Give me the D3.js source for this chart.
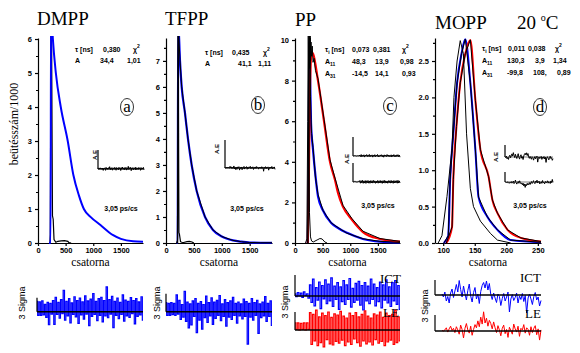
<!DOCTYPE html>
<html>
<head>
<meta charset="utf-8">
<script src="https://cdn.jsdelivr.net/npm/d3@7"></script>
<style>
body { margin: 0; background: #fff; }
svg { display: block; }
.tick text { font-family: "Liberation Sans", Arial, sans-serif; font-weight: bold; font-size: 7.5px; }
.axis path, .axis line { stroke: #000; stroke-width: 1.2; }
</style>
</head>
<body>
<svg id="chart" width="580" height="353"></svg>
<script>
// ---- DMPP (a) : channel / counts(x1000)
var dmppCh    = [200, 228, 236, 269, 323, 412, 538, 640, 740, 830, 950, 1130, 1360, 1500, 1720, 1900];
var dmppFit   = [0, 0, 7.0, 6.0, 5.0, 4.0, 3.0, 2.0, 1.4, 1.0, 0.77, 0.53, 0.23, 0.12, 0.05, 0.04];
var dmppIrfCh = [200, 215, 222, 230, 238, 246, 262, 275, 290, 323, 360, 420, 480, 540, 560, 600];
var dmppIrf   = [0, 0, 0.25, 4, 8, 6, 0.8, 0.7, 0.1, 0.02, 0.05, 0.06, 0.07, 0.05, 0.01, 0];

// ---- TFPP (b)
var tfppCh    = [190, 210, 218, 251, 281, 340, 394, 460, 550, 700, 842, 1000, 1200, 1350, 1500, 1700, 1900];
var tfppFit   = [0, 0, 8.5, 7.0, 6.0, 5.0, 4.0, 3.0, 2.0, 1.0, 0.5, 0.25, 0.1, 0.05, 0.02, 0.01, 0.01];
var tfppIrfCh = [190, 205, 212, 218, 224, 232, 240, 260, 300, 376, 420, 466, 500];
var tfppIrf   = [0, 0.1, 3, 9, 5, 0.4, 0.35, 0.05, 0.01, 0.05, 0.06, 0.04, 0];

// ---- PP (c)
var ppIctCh     = [230, 245, 262, 275, 290, 326, 371, 416, 507, 652, 800, 941, 1230, 1538, 1900];
var ppIctFit    = [0, 3, 10, 8, 5.9, 4.6, 3.3, 2.3, 1.6, 1.0, 0.7, 0.5, 0.2, 0.07, 0.03];
var ppLeCh      = [230, 245, 270, 300, 330, 416, 525, 633, 724, 778, 869, 1031, 1230, 1538, 1900];
var ppLeFit     = [0, 2, 7.5, 9.4, 9.3, 8, 6, 4, 3.1, 2.46, 1.78, 1.14, 0.54, 0.2, 0.07];
var ppIctDataCh = [232, 248, 255, 262, 268, 274, 280, 290, 300, 326, 371, 416, 507, 652, 800, 941, 1230, 1538, 1900];
var ppIctData   = [0, 6.5, 9.6, 10.3, 8.8, 10.2, 7.2, 6.1, 5.4, 4.7, 3.2, 2.4, 1.6, 1.0, 0.72, 0.48, 0.21, 0.08, 0.03];
var ppLeDataCh  = [232, 250, 258, 266, 274, 282, 290, 300, 312, 326, 345, 370, 416, 525, 633, 724, 869, 1031, 1230, 1538, 1900];
var ppLeData    = [0, 5.5, 9.9, 8.6, 10.1, 9.0, 9.9, 9.2, 9.7, 8.9, 9.1, 8.5, 8.1, 6.1, 4.1, 3.2, 1.85, 1.2, 0.58, 0.22, 0.08];
var ppIrfCh     = [190, 215, 230, 240, 250, 262, 280, 300, 330, 400, 450, 490, 540, 580];
var ppIrf       = [0, 0.2, 6, 10.5, 7, 1.5, 0.3, 0.1, 0.05, 0.15, 0.22, 0.2, 0.05, 0];

// ---- MOPP (d)
var moppIrfCh = [92, 98, 106, 114, 117, 122, 127, 132, 137, 143, 148, 159, 175, 186, 207];
var moppIrf   = [0, 0.1, 0.64, 1.3, 2.0, 2.5, 2.78, 2.6, 1.5, 0.75, 0.5, 0.3, 0.13, 0.04, 0];
var moppIctCh = [101, 108, 111, 116, 122, 129, 135, 143, 151, 156, 170, 186, 207, 255];
var moppIct   = [0, 0.1, 0.87, 1.5, 2.2, 2.6, 2.8, 2.2, 1.28, 0.63, 0.36, 0.18, 0.04, 0.01];
var moppLeCh  = [105, 114, 116, 121, 127, 135, 143, 151, 159, 172, 178, 186, 202, 223, 255];
var moppLe    = [0, 0.22, 0.87, 1.6, 2.2, 2.6, 2.79, 1.96, 1.28, 0.91, 0.59, 0.41, 0.18, 0.07, 0.02];

// ---- weighted residuals (sigma units)
var resDmpp = [2.2,-0.8,2.1,-0.8,2.3,-0.7,1.6,-1.2,2.0,-2.8,1.8,-0.5,2.4,-2.7,3.1,-0.6,2.0,-1.4,2.6,-0.4,
  4.6,-1.8,2.2,-0.9,2.8,-2.4,1.9,-0.6,3.2,-1.1,2.4,-2.5,2.9,-0.7,2.1,-1.6,3.4,-0.5,2.3,-3.0,
  2.7,-1.0,3.9,-0.6,2.2,-1.9,2.8,-0.8,3.1,-2.2,2.4,-0.9,5.3,-1.3,2.6,-0.5,3.3,-3.4,2.2,-0.8,
  2.9,-1.5,2.0,-0.6,3.6,-2.0,2.5,-0.9,2.2,-1.2,3.0,-0.4,2.4,-2.6,2.8,-1.0,2.1,-0.7,3.2,-1.8];
var resTfpp = [1.5,-0.6,1.4,-0.6,1.5,-0.5,1.4,-0.6,2.8,-0.4,1.9,-1.3,1.2,-0.9,3.4,-1.6,1.6,-2.7,1.3,-2.2,
  1.8,-0.8,2.2,-3.5,1.4,-1.4,1.7,-2.9,1.2,-1.0,2.6,-1.8,1.5,-0.7,2.3,-2.1,1.6,-1.1,1.9,-0.6,
  2.7,-1.5,1.3,-0.8,2.0,-2.4,1.5,-0.9,1.8,-1.3,2.4,-0.6,1.4,-1.9,1.6,-0.7,1.3,-1.2,2.1,-0.8,
  1.7,-5.4,1.4,-0.9,2.2,-1.4,1.5,-0.6,1.9,-3.6,1.3,-1.0,1.6,-0.7,2.5,-1.6,1.4,-0.8,1.8,-2.3];
var resPpIct = [0.3,-0.1,0.5,0.0,0.4,-0.2,0.6,0.1,0.3,-0.3,
  1.6,-0.9,2.4,-1.4,1.2,-0.6,2.0,-1.8,1.5,-0.4,2.3,-1.1,1.7,-0.7,2.6,-1.5,1.4,-0.5,1.9,-1.9,
  1.3,-0.8,2.2,-1.2,1.6,-0.5,2.5,-1.6,1.1,-0.9,1.8,-0.6,2.1,-1.3,1.5,-2.0,1.9,-0.7,1.4,-1.1,
  2.4,-0.5,1.7,-1.4,1.2,-0.8,2.0,-1.7,1.6,-0.6,2.3,-1.0,1.3,-1.5,1.9,-0.7,2.2,-1.2,1.5,-1.9];
var resPpLe = [1.2,0.1,1.2,0.0,1.1,0.1,1.2,0.0,1.2,0.1,
  2.9,-2.4,2.6,-1.8,3.3,-2.6,2.2,-2.1,2.8,-2.8,2.4,-1.6,3.0,-2.3,2.1,-2.5,2.7,-1.9,2.5,-2.2,
  3.1,-1.7,2.3,-2.6,2.0,-2.0,2.8,-2.4,2.4,-1.5,2.9,-2.1,2.2,-2.7,2.6,-1.8,3.2,-2.3,2.3,-2.0,
  2.0,-2.5,2.7,-1.6,2.5,-2.2,3.0,-1.9,2.1,-2.6,2.8,-2.0,2.4,-1.7,2.6,-2.4,3.3,-2.1,2.2,-1.8];
var resMoppIct = [0.2,-0.4,0.6,-1.2,-0.3,-1.6,0.4,1.2,-0.5,0.8,2.1,0.6,2.9,1.1,-0.4,1.8,0.3,-1.0,0.9,2.2,
  -0.2,-1.4,0.5,1.5,-0.8,0.2,-1.7,0.7,1.9,2.5,1.4,2.8,1.0,2.3,0.1,-0.9,0.4,-0.6,-1.5,0.2,
  -0.3,-2.1,-0.7,0.3,-1.2,-0.4,0.6,-3.4,-0.8,0.1,-1.1,-0.5,0.4,-1.6,-0.2,-0.9,0.3,-1.3,-0.1,-3.6,
  -0.6,0.2,-0.8,-1.9,-0.3,0.5,-1.0,-0.4,-2.2,-1.1];
var resMoppLe = [0.1,0.0,0.2,0.6,-0.2,0.4,0.9,0.1,0.5,-0.3,0.8,0.2,-0.6,1.1,0.3,-1.3,0.5,1.4,0.2,-0.4,
  0.9,-0.8,0.3,1.2,0.6,1.9,0.8,2.6,1.3,3.6,1.5,2.4,0.9,2.0,1.4,0.4,1.7,0.6,-0.3,1.0,
  0.2,-0.9,0.5,1.1,-0.5,0.3,-1.2,0.7,0.1,-0.6,1.3,0.4,-0.2,0.9,-1.0,0.5,0.2,1.2,-0.4,0.6,
  0.3,-0.8,0.8,-0.3,0.5,1.0,-0.7,0.4,-1.7,0.2];

var chanTicks = [0, 500, 1000, 1500];
var moppTicks = [100, 150, 200, 250];

var svg = d3.select("#chart");
var serif = '"Liberation Serif","Times New Roman",serif';
var sans = '"Liberation Sans",Arial,sans-serif';

function txt(x, y, s, o) {
    o = o || {};
    return svg.append("text").attr("x", x).attr("y", y)
        .attr("font-family", o.family || sans)
        .attr("font-size", o.size || 7)
        .attr("font-weight", o.weight || "bold")
        .attr("text-anchor", o.anchor || "start")
        .text(s);
}

function drawPanel(p) {
    var x = d3.scaleLinear().domain(p.xDomain).range([p.left, p.right]);
    var y = d3.scaleLinear().domain([0, p.yMax]).range([243, 38]);

    svg.append("clipPath").attr("id", "clip-" + p.id).append("rect")
        .attr("x", p.left).attr("y", 36).attr("width", p.right - p.left + 3).attr("height", 208);

    svg.append("g").attr("class", "axis").attr("transform", "translate(" + p.left + ",0)")
        .call(d3.axisLeft(y).tickValues(p.yMinor).tickSize(2).tickFormat(""))
        .call(function (a) { a.select(".domain").remove(); });
    svg.append("g").attr("class", "axis").attr("transform", "translate(" + p.left + ",0)")
        .call(d3.axisLeft(y).tickValues(p.yTicks).tickSize(3).tickSizeOuter(0).tickPadding(3).tickFormat(p.yFormat));
    svg.append("g").attr("class", "axis").attr("transform", "translate(0,243)")
        .call(d3.axisBottom(x).tickValues(p.xTicks).tickSize(3).tickSizeOuter(0).tickPadding(2).tickFormat(d3.format("d")));

    var plot = svg.append("g").attr("clip-path", "url(#clip-" + p.id + ")");
    p.curves.forEach(function (c) {
        var line = d3.line().x(function (d) { return x(d[0]); }).y(function (d) { return y(d[1]); })
            .curve(c.smooth ? d3.curveMonotoneX : d3.curveLinear);
        plot.append("path").datum(d3.zip(c.ch, c.v)).attr("d", line)
            .attr("fill", "none").attr("stroke", c.color).attr("stroke-width", c.w);
    });

    txt((p.left + p.right) / 2, 266, "csatorna", { family: serif, size: 11.5, weight: "normal", anchor: "middle" });
}

// residual trace with a 3-sigma bar at its left end
function drawResidual(r) {
    var x = d3.scaleLinear().domain([0, r.values.length - 1]).range([r.x0, r.x1]);
    var line = d3.line().x(function (d, i) { return x(i); }).y(function (d) { return r.base - d * r.unit; })
        .curve(r.step ? d3.curveStep : d3.curveLinear);
    svg.append("path").datum(r.values).attr("d", line)
        .attr("fill", "none").attr("stroke", r.color).attr("stroke-width", r.w || 1);
    svg.append("line").attr("x1", r.left).attr("x2", r.x1).attr("y1", r.base).attr("y2", r.base)
        .attr("stroke", "#000").attr("stroke-width", r.bw || 1.5);
    svg.append("line").attr("x1", r.left).attr("x2", r.left).attr("y1", r.base).attr("y2", r.base - r.bar)
        .attr("stroke", "#000").attr("stroke-width", 1.2);
}

function circled(x, y, s) {
    svg.append("ellipse").attr("cx", x).attr("cy", y).attr("rx", 6.5).attr("ry", 8.5)
        .attr("fill", "none").attr("stroke", "#000").attr("stroke-width", 0.8);
    txt(x, y + 5, s, { family: serif, size: 17, weight: "normal", anchor: "middle" });
}

function rotLabel(x, y, s, o) {
    txt(0, 0, s, o).attr("transform", "translate(" + x + "," + y + ") rotate(-90)");
}

function sym(x, y, main, sub, sup) {
    var t = txt(x, y, main);
    if (sub) t.append("tspan").attr("font-size", 5).attr("dy", 2).text(sub);
    if (sup) t.append("tspan").attr("font-size", 5).attr("dy", -4).text(sup);
    return t;
}

// ---------------- main panels
drawPanel({ id: "a", left: 38, right: 143, xDomain: [0, 1900], xTicks: chanTicks,
    yMax: 6.03, yTicks: [0, 1, 2, 3, 4, 5, 6], yMinor: [0.5, 1.5, 2.5, 3.5, 4.5, 5.5], yFormat: d3.format("d"),
    curves: [
        { ch: dmppIrfCh, v: dmppIrf, color: "#000", w: 1.2 },
        { ch: dmppCh, v: dmppFit, color: "#0000ff", w: 2, smooth: true }
    ] });
drawPanel({ id: "b", left: 166, right: 272, xDomain: [0, 1900], xTicks: chanTicks,
    yMax: 7.88, yTicks: [0, 1, 2, 3, 4, 5, 6, 7], yMinor: [0.5, 1.5, 2.5, 3.5, 4.5, 5.5, 6.5, 7.5], yFormat: d3.format("d"),
    curves: [
        { ch: tfppCh, v: tfppFit, color: "#0000ff", w: 2.2, smooth: true },
        { ch: tfppIrfCh, v: tfppIrf, color: "#000", w: 1.2 },
        { ch: tfppCh, v: tfppFit, color: "#000", w: 1 }
    ] });
drawPanel({ id: "c", left: 295, right: 400, xDomain: [0, 1900], xTicks: chanTicks,
    yMax: 10.1, yTicks: [0, 2, 4, 6, 8, 10], yMinor: [1, 3, 5, 7, 9], yFormat: d3.format("d"),
    curves: [
        { ch: ppIctCh, v: ppIctFit, color: "#0000ff", w: 2.2, smooth: true },
        { ch: ppLeCh, v: ppLeFit, color: "#ff0000", w: 2.2, smooth: true },
        { ch: ppIrfCh, v: ppIrf, color: "#000", w: 1 },
        { ch: ppIctDataCh, v: ppIctData, color: "#000", w: 1 },
        { ch: ppLeDataCh, v: ppLeData, color: "#000", w: 1 }
    ] });
drawPanel({ id: "d", left: 435, right: 541, xDomain: [87, 255], xTicks: moppTicks,
    yMax: 2.816, yTicks: [0, 0.5, 1, 1.5, 2, 2.5], yMinor: [0.25, 0.75, 1.25, 1.75, 2.25, 2.75], yFormat: d3.format(".1f"),
    curves: [
        { ch: moppIctCh, v: moppIct, color: "#0000ff", w: 2, smooth: true },
        { ch: moppLeCh, v: moppLe, color: "#ff0000", w: 2, smooth: true },
        { ch: moppIrfCh, v: moppIrf, color: "#000", w: 1 },
        { ch: moppIctCh, v: moppIct, color: "#000", w: 1 },
        { ch: moppLeCh, v: moppLe, color: "#000", w: 1 }
    ] });

// ---------------- titles
txt(37, 25, "DMPP", { family: serif, size: 19, weight: "normal" });
txt(165, 25, "TFPP", { family: serif, size: 19, weight: "normal" });
txt(295, 26, "PP", { family: serif, size: 19, weight: "normal" });
txt(435, 29, "MOPP", { family: serif, size: 19, weight: "normal" });
var tc = txt(517, 29, "20 ", { family: serif, size: 19, weight: "normal" });
tc.append("tspan").attr("font-size", 10).attr("dy", -8).text("o");
tc.append("tspan").attr("dy", 8).text("C");

rotLabel(18, 124, "beütésszám/1000", { family: serif, size: 12, weight: "normal", anchor: "middle" });

// ---------------- fit parameter tables
sym(75, 52, "τ [ns]"); txt(103, 52, "0,380"); sym(133, 52, "χ", null, "2");
txt(75, 63, "A"); txt(100, 63, "34,4"); txt(127, 63, "1,01");

sym(205, 55, "τ [ns]"); txt(232, 55, "0,435"); sym(263, 55, "χ", null, "2");
txt(205, 66, "A"); txt(238, 66, "41,1"); txt(258, 66, "1,11");

sym(325, 52, "τ", "i").append("tspan").attr("dy", -2).text(" [ns]");
txt(352, 52, "0,073"); txt(373, 52, "0,381"); sym(402, 52, "χ", null, "2");
sym(325, 63.5, "A", "11"); txt(352, 63.5, "48,3"); txt(375, 63.5, "13,9"); txt(400, 63.5, "0,98");
sym(325, 76, "A", "31"); txt(352, 76, "-14,5"); txt(375, 76, "14,1"); txt(402, 76, "0,93");

sym(482, 51, "τ", "i").append("tspan").attr("dy", -2).text(" [ns]");
txt(508, 51, "0,011"); txt(528, 51, "0,038"); sym(555, 51, "χ", null, "2");
sym(482, 63, "A", "11"); txt(507, 63, "130,3"); txt(535, 63, "3,9"); txt(553, 63, "1,34");
sym(482, 75, "A", "31"); txt(507, 75, "-99,8"); txt(533, 75, "108,"); txt(557, 75, "0,89");

circled(127, 107, "a");
circled(258, 105, "b");
circled(390, 106, "c");
circled(540, 107, "d");

// ---------------- small residual insets and time calibration
rotLabel(97, 160, "A.E", { size: 6 });
drawResidual({ values: resDmpp, left: 98, x0: 98, x1: 144, base: 169, unit: 0.5, bar: 19, color: "#000", w: 1, bw: 0.5 });
rotLabel(219, 154, "A.E", { size: 6 });
drawResidual({ values: resTfpp, left: 225, x0: 225, x1: 275, base: 168, unit: 0.6, bar: 28, color: "#000", w: 1, bw: 0.5 });
rotLabel(349, 164, "A.E", { size: 6 });
drawResidual({ values: resPpIct, left: 353, x0: 353, x1: 400, base: 156, unit: 0.6, bar: 19, color: "#000", w: 1, bw: 0.5 });
drawResidual({ values: resPpLe, left: 353, x0: 353, x1: 400, base: 182, unit: 0.5, bar: 19, color: "#000", w: 1, bw: 0.5 });
rotLabel(498, 162, "A.E", { size: 6 });
drawResidual({ values: resMoppIct, left: 505, x0: 505, x1: 553, base: 157, unit: 1.5, bar: 12, color: "#000", w: 1, bw: 0.5 });
drawResidual({ values: resMoppLe, left: 505, x0: 505, x1: 553, base: 182, unit: -1.5, bar: 10, color: "#000", w: 1, bw: 0.5 });

txt(121, 210.5, "3,05 ps/cs", { anchor: "middle" });
txt(247, 210.5, "3,05 ps/cs", { anchor: "middle" });
txt(378, 207.5, "3,05 ps/cs", { anchor: "middle" });
txt(530, 207.5, "3,05 ps/cs", { anchor: "middle" });

// ---------------- residual panels (dense ones drawn as steps)
drawResidual({ values: resDmpp, left: 37, x0: 37, x1: 143, base: 311.7, unit: 14 / 3, bar: 14, color: "#0000ff", w: 1.2, step: true });
drawResidual({ values: resTfpp, left: 166, x0: 166, x1: 272, base: 311.7, unit: 6, bar: 18, color: "#0000ff", w: 1.2, step: true });
drawResidual({ values: resPpIct, left: 295, x0: 295, x1: 400, base: 296, unit: 7, bar: 21, color: "#0000ff", w: 1.2, step: true });
drawResidual({ values: resPpLe, left: 295, x0: 295, x1: 400, base: 330, unit: 6, bar: 18, color: "#ff0000", w: 1.2, step: true });
drawResidual({ values: resMoppIct, left: 435, x0: 442, x1: 541, base: 295, unit: 5, bar: 15, color: "#0000ff" });
drawResidual({ values: resMoppLe, left: 435, x0: 442, x1: 541, base: 331, unit: 16 / 3, bar: 16, color: "#ff0000" });

var sig = { size: 9, weight: "normal", anchor: "middle" };
rotLabel(25, 303, "3 Sigma", sig);
rotLabel(160, 303, "3 Sigma", sig);
rotLabel(288, 302, "3 Sigma", sig);
rotLabel(428, 306, "3 Sigma", sig);

txt(380, 283, "ICT", { family: serif, size: 13, weight: "normal" });
txt(383, 317, "LE", { family: serif, size: 13, weight: "normal" });
txt(520, 282, "ICT", { family: serif, size: 13, weight: "normal" });
txt(525, 318, "LE", { family: serif, size: 13, weight: "normal" });
</script>
</body>
</html>
